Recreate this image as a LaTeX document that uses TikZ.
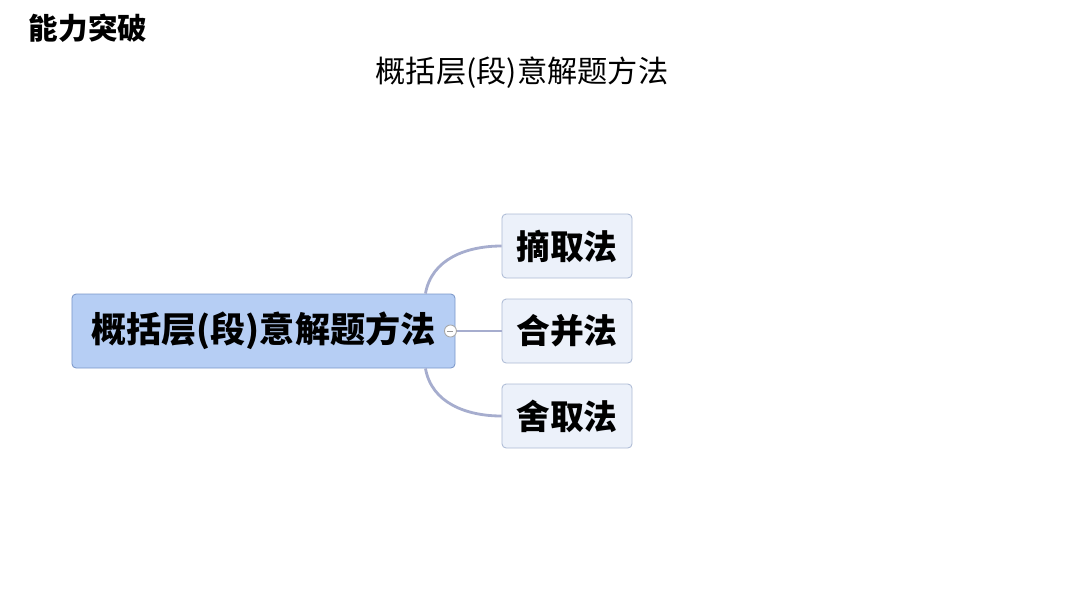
\documentclass[tikz,border=0pt]{standalone}
\usepackage{fontspec}
\usepackage{tikz}
\usetikzlibrary{positioning, calc}
\newfontfamily\cjk{Noto Sans CJK SC}
\definecolor{rootblue}{RGB}{182,206,244}
\definecolor{rootedge}{RGB}{122,150,200}
\definecolor{leaffill}{RGB}{236,241,250}
\definecolor{leafedge}{RGB}{172,186,212}
\definecolor{linkgray}{RGB}{166,173,206}

\begin{document}
\begin{tikzpicture}[x=0.025cm, y=-0.025cm,
    every node/.style={font=\cjk},
    rootbox/.style={rectangle, draw=rootedge, fill=rootblue, rounded corners=3pt, line width=0.6pt, minimum width=9.575cm, minimum height=1.85cm, inner sep=0pt, font=\cjk\bfseries\fontsize{25}{29}\selectfont},
    leafbox/.style={rectangle, draw=leafedge, fill=leaffill, rounded corners=3pt, line width=0.6pt, minimum width=3.25cm, minimum height=1.6cm, inner sep=0pt, font=\cjk\bfseries\fontsize{24}{28}\selectfont},
    link/.style={draw=linkgray, line width=2pt}
]
\useasboundingbox (0,0) rectangle (1080,608);

% headings
\node[anchor=west, font=\cjk\bfseries\fontsize{21}{25}\selectfont] (head) at (24,28) {能力突破};
\node[font=\cjk\fontsize{21.5}{26}\selectfont] (title) at (522,73) {概括层(段)意解题方法};

% map
\node[rootbox] (root) at (263.5,331) {概括层(段)意解题方法};
\node[leafbox] (pick) at (567,246) {摘取法};
\node[leafbox] (merge) at (567,331) {合并法};
\node[leafbox] (drop) at (567,416) {舍取法};

\draw[link] ($(root.north east)+(-30,0)$) to[out=80, in=180] (pick.west);
\draw[link] (root.east) -- (merge.west);
\draw[link] ($(root.south east)+(-30,0)$) to[out=-80, in=180] (drop.west);

% collapse marker
\node[circle, draw=gray!70, fill=white, line width=0.6pt, minimum size=0.3cm, inner sep=0pt] (fold) at ($(root.east)+(-5,0)$) {};
\draw[gray!80, line width=0.7pt] ($(fold.center)+(-3,0)$) -- ($(fold.center)+(3,0)$);

\end{tikzpicture}
\end{document}
